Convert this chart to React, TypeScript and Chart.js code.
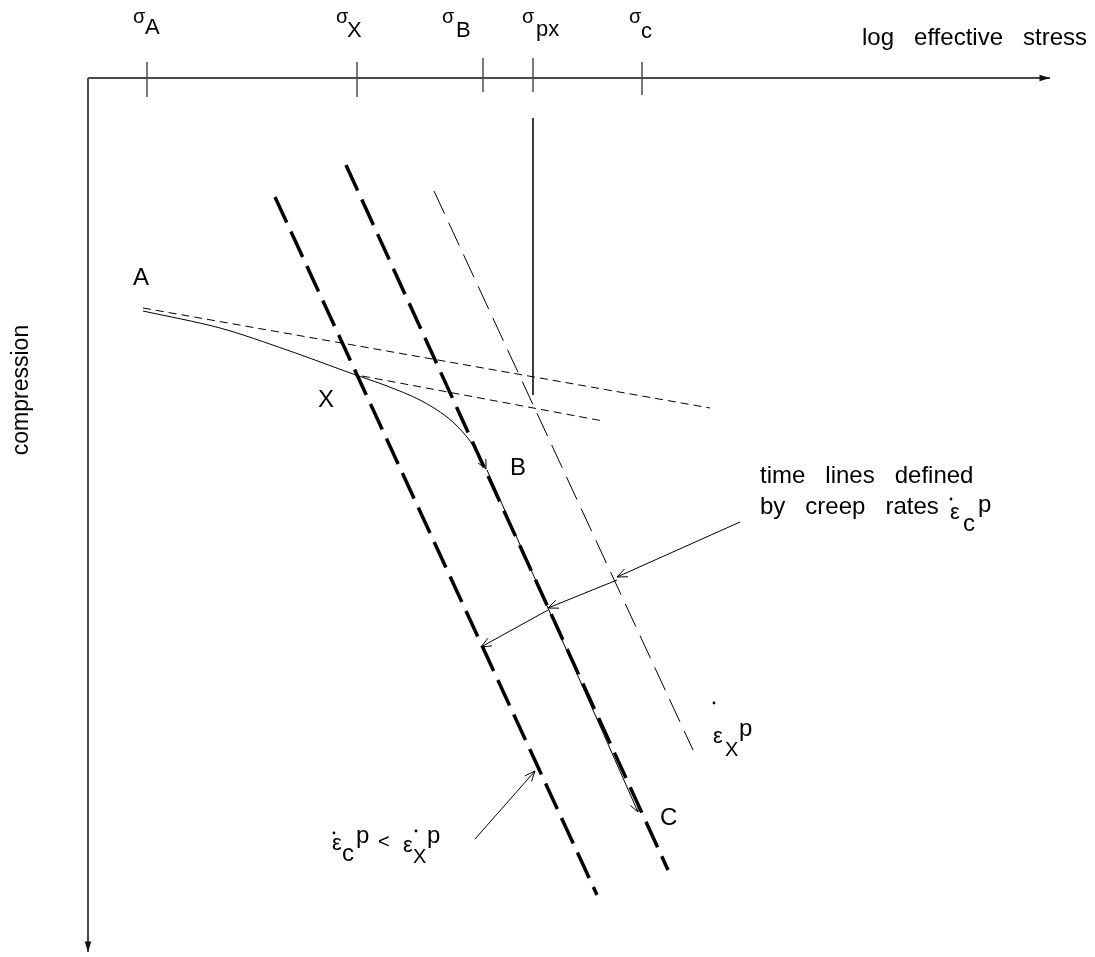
import { useEffect, useRef } from "react";
import { Chart, registerables } from "chart.js";

Chart.register(...registerables);

// ---- data (horizontal: log effective stress, vertical: compression, downward) ----
const stressRange = [0, 1095];
const compressionRange = [0, 957];

// stress axis ticks
const tickStress = [147, 357, 483, 533, 642];
const tickNames = ["A", "X", "B", "px", "c"];
const tickTop = [62, 62, 58, 58, 62];
const tickBottom = [97, 97, 92, 92, 95];
const sigmaLabelStress = [133, 336, 442, 522, 629];
const nameLabelStress = [145, 347, 456, 536, 641];
const nameLabelBaseline = [34, 37, 37, 36, 38];

// axes
const axisOrigin = [88, 78];
const stressAxisEnd = 1050;
const compressionAxisEnd = 952;

// path A -> X -> B (solid curve)
const pathStress = [143, 220, 287, 353, 387, 420, 447, 467, 480, 486];
const pathCompression = [311, 328, 350, 374, 386, 400, 417, 437, 457, 469];

// path B -> C
const bcStress = [487, 638];
const bcCompression = [470, 812];

// reference (instant) lines, thin dashed
const upperRefStress = [143, 710];
const upperRefCompression = [308, 408];
const lowerRefStress = [362, 603];
const lowerRefCompression = [376, 421];

// vertical marker at sigma_px
const pxMarkerStress = [533, 533];
const pxMarkerCompression = [118, 395];

// time lines (heavy dashed x2, light dashed x1)
const time1Stress = [275, 597];
const time1Compression = [197, 895];
const time2Stress = [346, 668];
const time2Compression = [165, 870];
const time3Stress = [434, 693];
const time3Compression = [191, 750];

// annotation arrows: [fromStress, fromCompression, toStress, toCompression]
const annotationArrows = [
  [740, 522, 617, 577],
  [617, 580, 548, 608],
  [548, 610, 481, 647],
  [475, 839, 535, 771],
];

// texts: [text, stress, compression(baseline), size]
const textItems: [string, number, number, number][] = [
  ["log   effective   stress", 862, 45, 24],
  ["A", 133, 285, 24],
  ["X", 318, 407, 24],
  ["B", 510, 475, 24],
  ["C", 660, 825, 24],
  ["time   lines   defined", 760, 483, 24],
  ["by   creep   rates", 760, 514, 24],
  ["ε", 950, 519, 22],
  ["c", 963, 531, 24],
  ["p", 978, 512, 24],
  ["ε", 713, 743, 22],
  ["X", 725, 756, 20],
  ["p", 739, 736, 24],
  ["ε", 332, 850, 22],
  ["c", 342, 861, 24],
  ["p", 356, 843, 24],
  ["<", 378, 848, 20],
  ["ε", 403, 852, 22],
  ["X", 413, 863, 20],
  ["p", 427, 843, 24],
];
const rateDotStress = [951, 714, 334, 416];
const rateDotCompression = [499, 703, 833, 831];

const yAxisTitle = "compression";
const yAxisTitleAt = [22, 390];

const FONT = '"Liberation Sans", Arial, sans-serif';

function pts(xs: number[], ys: number[]) {
  return xs.map((x, i) => ({ x, y: ys[i] }));
}

function arrowHead(
  ctx: CanvasRenderingContext2D,
  fx: number,
  fy: number,
  tx: number,
  ty: number,
  len: number,
  half: number,
  filled: boolean
) {
  const a = Math.atan2(ty - fy, tx - fx);
  ctx.beginPath();
  ctx.moveTo(tx - len * Math.cos(a - half), ty - len * Math.sin(a - half));
  ctx.lineTo(tx, ty);
  ctx.lineTo(tx - len * Math.cos(a + half), ty - len * Math.sin(a + half));
  if (filled) {
    ctx.closePath();
    ctx.fill();
  } else {
    ctx.stroke();
  }
}

const overlay = {
  id: "overlay",
  afterDatasetsDraw(chart: any) {
    const { ctx, scales } = chart;
    const X = (v: number) => scales.x.getPixelForValue(v);
    const Y = (v: number) => scales.y.getPixelForValue(v);
    ctx.save();
    ctx.lineCap = "butt";

    // axis arrowheads (filled)
    ctx.fillStyle = "#111";
    ctx.strokeStyle = "#111";
    ctx.lineWidth = 1;
    arrowHead(ctx, X(axisOrigin[0]), Y(axisOrigin[1]), X(stressAxisEnd), Y(axisOrigin[1]), 11, 0.3, true);
    arrowHead(ctx, X(axisOrigin[0]), Y(axisOrigin[1]), X(axisOrigin[0]), Y(compressionAxisEnd), 11, 0.3, true);

    // open arrowheads
    ctx.strokeStyle = "#000";
    ctx.lineWidth = 1;
    const n = pathStress.length;
    arrowHead(
      ctx,
      X(pathStress[n - 2]),
      Y(pathCompression[n - 2]),
      X(pathStress[n - 1]),
      Y(pathCompression[n - 1]),
      10,
      0.45,
      false
    );
    arrowHead(ctx, X(bcStress[0]), Y(bcCompression[0]), X(bcStress[1]), Y(bcCompression[1]), 10, 0.45, false);
    annotationArrows.forEach((a) => {
      arrowHead(ctx, X(a[0]), Y(a[1]), X(a[2]), Y(a[3]), 11, 0.4, false);
    });

    // texts
    ctx.fillStyle = "#000";
    ctx.textBaseline = "alphabetic";
    ctx.textAlign = "left";
    tickStress.forEach((_, i) => {
      ctx.font = `20px ${FONT}`;
      ctx.fillText("σ", X(sigmaLabelStress[i]), Y(23));
      ctx.font = `22px ${FONT}`;
      ctx.fillText(tickNames[i], X(nameLabelStress[i]), Y(nameLabelBaseline[i]));
    });
    textItems.forEach(([t, sx, cy, size]) => {
      ctx.font = `${size}px ${FONT}`;
      ctx.fillText(t, X(sx), Y(cy));
    });
    rateDotStress.forEach((sx, i) => {
      ctx.beginPath();
      ctx.arc(X(sx), Y(rateDotCompression[i]), 1.4, 0, Math.PI * 2);
      ctx.fill();
    });

    // vertical axis title
    ctx.save();
    ctx.translate(X(yAxisTitleAt[0]), Y(yAxisTitleAt[1]));
    ctx.rotate(-Math.PI / 2);
    ctx.font = `23px ${FONT}`;
    ctx.textAlign = "center";
    ctx.textBaseline = "middle";
    ctx.fillText(yAxisTitle, 0, 0);
    ctx.restore();

    ctx.restore();
  },
};

export default function App() {
  const ref = useRef<HTMLCanvasElement | null>(null);

  useEffect(() => {
    if (!ref.current) return;
    const line = (data: any[], color: string, width: number, dash: number[] = [], tension = 0) => ({
      data,
      showLine: true,
      borderColor: color,
      borderWidth: width,
      borderDash: dash,
      borderCapStyle: "butt",
      tension,
      pointRadius: 0,
      pointHoverRadius: 0,
      fill: false,
    });

    const datasets: any[] = [
      // axes
      line(pts([axisOrigin[0], stressAxisEnd], [axisOrigin[1], axisOrigin[1]]), "#4a4a4a", 2),
      line(pts([axisOrigin[0], axisOrigin[0]], [axisOrigin[1], compressionAxisEnd]), "#4a4a4a", 2),
      // ticks
      ...tickStress.map((s, i) => line(pts([s, s], [tickTop[i], tickBottom[i]]), "#222", 1.2)),
      // reference lines
      line(pts(upperRefStress, upperRefCompression), "#000", 1, [8, 5]),
      line(pts(lowerRefStress, lowerRefCompression), "#000", 1, [8, 5]),
      line(pts(pxMarkerStress, pxMarkerCompression), "#222", 1),
      // time lines
      line(pts(time1Stress, time1Compression), "#000", 3.5, [28, 10]),
      line(pts(time2Stress, time2Compression), "#000", 3.5, [28, 10]),
      line(pts(time3Stress, time3Compression), "#000", 1, [25, 10]),
      // paths
      line(pts(pathStress, pathCompression), "#000", 1, [], 0.3),
      line(pts(bcStress, bcCompression), "#000", 1),
      // annotation arrows
      ...annotationArrows.map((a) => line(pts([a[0], a[2]], [a[1], a[3]]), "#000", 1)),
    ];

    const chart = new Chart(ref.current, {
      type: "scatter",
      data: { datasets },
      options: {
        animation: false,
        responsive: false,
        maintainAspectRatio: false,
        devicePixelRatio: 1,
        layout: { padding: 0 },
        events: [],
        plugins: {
          legend: { display: false },
          tooltip: { enabled: false },
          title: { display: false },
        },
        scales: {
          x: { type: "linear", min: stressRange[0], max: stressRange[1], display: false },
          y: { type: "linear", min: compressionRange[0], max: compressionRange[1], reverse: true, display: false },
        },
      },
      plugins: [overlay],
    });
    return () => chart.destroy();
  }, []);

  return (
    <div style={{ position: "fixed", left: 0, top: 0, width: 1095, height: 957, background: "#fff" }}>
      <canvas ref={ref} width={1095} height={957} style={{ display: "block" }} />
    </div>
  );
}
